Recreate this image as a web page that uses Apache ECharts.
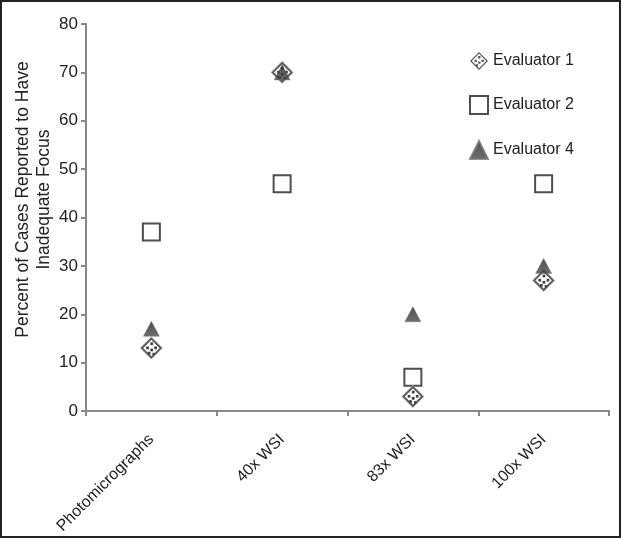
<!DOCTYPE html>
<html><head><meta charset="utf-8">
<script src="https://cdn.jsdelivr.net/npm/echarts@6/dist/echarts.min.js"></script>
<style>html,body{margin:0;padding:0;background:#fff}#c{width:621px;height:538px;box-sizing:border-box;border:2px solid #222}</style>
</head><body><div id="c"></div>
<script>
const categories = ['Photomicrographs', '40x WSI', '83x WSI', '100x WSI'];
const evaluator1 = [13, 70, 3, 27];
const evaluator2 = [37, 47, 7, 47];
const evaluator4 = [17, 70, 20, 30];
const seriesNames = ['Evaluator 1', 'Evaluator 2', 'Evaluator 4'];
const yTicks = {min: 0, max: 80, interval: 10};

const diamondSvg = '<svg xmlns="http://www.w3.org/2000/svg" width="22" height="22" viewBox="0 0 22 22">' +
  '<polygon points="11,0.5 21.5,11 11,21.5 0.5,11" fill="#fff" stroke="#bbb" stroke-width="1"/>' +
  '<polygon points="11,2 20,11 11,20 2,11" fill="#fff" stroke="#333" stroke-width="1.8"/>' +
  '<rect x="10" y="5.5" width="2.6" height="2.6" fill="#111"/>' +
  '<rect x="6" y="9.5" width="2.6" height="2.6" fill="#111"/>' +
  '<rect x="13.8" y="9.5" width="2.6" height="2.6" fill="#111"/>' +
  '<rect x="10" y="11.5" width="2.6" height="2.6" fill="#111"/>' +
  '<rect x="7.5" y="14.5" width="2.6" height="2.6" fill="#111"/>' +
  '<rect x="12" y="15.5" width="2.2" height="2.2" fill="#111"/>' +
  '</svg>';
const diamondSymbol = 'image://data:image/svg+xml;charset=utf-8,' + encodeURIComponent(diamondSvg);
const diamondPath = 'path://M11 1L21 11L11 21L1 11Z M11 3L3 11L11 19L19 11Z ' +
  'M10 5.5h2.6v2.6h-2.6Z M6 9.5h2.6v2.6h-2.6Z M13.8 9.5h2.6v2.6h-2.6Z ' +
  'M10 11.5h2.6v2.6h-2.6Z M7.5 14.5h2.6v2.6h-2.6Z';
const triGrad = new echarts.graphic.LinearGradient(0, 0, 0, 1, [
  {offset: 0, color: '#222'}, {offset: 1, color: '#4a4a4a'}
]);

const chart = echarts.init(document.getElementById('c'));
const font = 'Liberation Sans, Arial, sans-serif';
chart.setOption({
  animation: false,
  textStyle: {fontFamily: font},
  grid: {left: 84, right: 10, top: 22, bottom: 125, containLabel: false, outerBoundsMode: 'none'},
  legend: {
    orient: 'vertical', left: 462, top: 45, itemGap: 25, itemWidth: 18, itemHeight: 18,
    textStyle: {fontSize: 16, color: '#222', fontFamily: font},
    data: [
      {name: seriesNames[0], icon: diamondPath, itemStyle: {color: '#333'}},
      {name: seriesNames[1], icon: 'rect', itemStyle: {color: '#fff', borderColor: '#222', borderWidth: 2}},
      {name: seriesNames[2], icon: 'triangle', itemStyle: {color: triGrad}}
    ]
  },
  xAxis: {
    type: 'category', data: categories, boundaryGap: true,
    axisLine: {lineStyle: {color: '#888', width: 2}},
    axisTick: {show: true, length: 5, lineStyle: {color: '#888', width: 2}},
    axisLabel: {rotate: 45, fontSize: 16, color: '#222', margin: 26, interval: 0, fontFamily: font},
    splitLine: {show: false}
  },
  yAxis: {
    type: 'value', min: yTicks.min, max: yTicks.max, interval: yTicks.interval,
    name: 'Percent of Cases Reported to Have\nInadequate Focus',
    nameLocation: 'middle', nameGap: 31, nameRotate: 90, nameMoveOverlap: false,
    nameTextStyle: {fontSize: 17.5, color: '#222', lineHeight: 21, fontFamily: font, padding: [0, 0, 0, 36]},
    axisLine: {show: true, lineStyle: {color: '#888', width: 2}},
    axisTick: {show: true, length: 5, lineStyle: {color: '#888', width: 2}},
    axisLabel: {fontSize: 17, color: '#222', margin: 8, fontFamily: font},
    splitLine: {show: false}
  },
  series: [
    {name: seriesNames[1], type: 'scatter', data: evaluator2, symbol: 'rect', symbolSize: 17,
      itemStyle: {color: '#fff', borderColor: '#222', borderWidth: 2}, z: 2},
    {name: seriesNames[0], type: 'scatter', data: evaluator1, symbol: diamondSymbol, symbolSize: 23, z: 3},
    {name: seriesNames[2], type: 'scatter', data: evaluator4, symbol: 'triangle', symbolSize: [16, 15],
      itemStyle: {color: triGrad, borderColor: '#777', borderWidth: 0.6}, z: 4}
  ]
});
</script></body></html>
